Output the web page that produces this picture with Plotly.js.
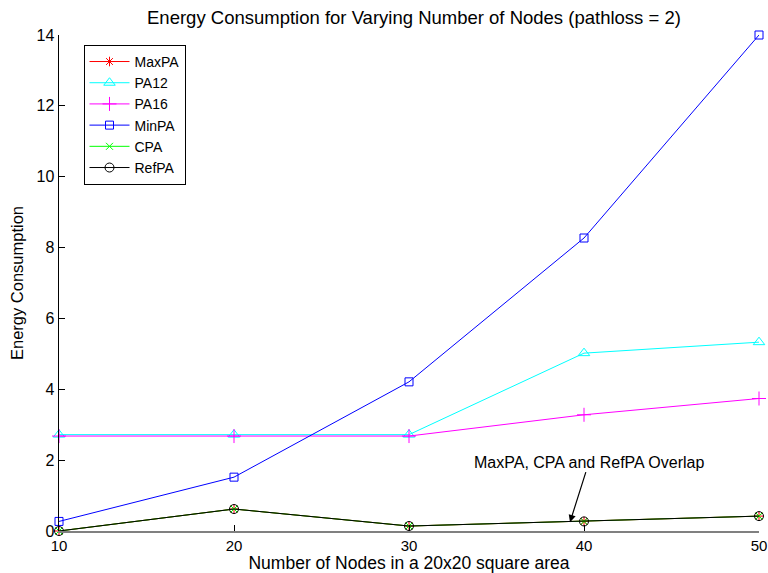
<!DOCTYPE html>
<html>
<head>
<meta charset="utf-8">
<script src="https://cdn.plot.ly/plotly-3.0.1.min.js"></script>
<style>
  html, body { margin: 0; padding: 0; background: #fff; }
  #chart { width: 768px; height: 573px; }
</style>
</head>
<body>
<div id="chart"></div>
<script>
// Number of nodes in the 20x20 area
const nodes = [10, 20, 30, 40, 50];

// Energy consumption per power-allocation scheme (pathloss = 2)
const maxPA = [0, 0.62, 0.14, 0.27, 0.42];
const pa12  = [2.72, 2.72, 2.72, 5.02, 5.33];
const pa16  = [2.68, 2.68, 2.68, 3.28, 3.74];
const minPA = [0.27, 1.52, 4.21, 8.27, 14.0];
const cpa   = [0, 0.62, 0.14, 0.27, 0.42];
const refPA = [0, 0.62, 0.14, 0.27, 0.42];

const yTicks = [0, 2, 4, 6, 8, 10, 12, 14];
const xTicks = [10, 20, 30, 40, 50];

function series(name, y, color, symbol, size) {
  return {
    x: nodes, y: y, name: name, type: 'scatter', mode: 'lines+markers',
    cliponaxis: false,
    line: { color: color, width: 1 },
    marker: { symbol: symbol, size: size, color: color, line: { color: color, width: 1 } }
  };
}

const traces = [
  series('MaxPA', maxPA, '#ff0000', 'asterisk-open', 8),
  series('PA12', pa12, '#00ffff', 'triangle-up-open', 10),
  series('PA16', pa16, '#ff00ff', 'cross-thin-open', 10),
  series('MinPA', minPA, '#0000ff', 'square-open', 8),
  series('CPA', cpa, '#00ff00', 'x-thin-open', 7),
  series('RefPA', refPA, '#000000', 'circle-open', 9)
];

const layout = {
  width: 768, height: 573,
  margin: { l: 59, r: 9, t: 35, b: 42 },
  paper_bgcolor: '#ffffff', plot_bgcolor: '#ffffff',
  font: { family: 'Liberation Sans, Arial, sans-serif', size: 15, color: '#000' },
  title: {
    text: 'Energy Consumption for Varying Number of Nodes (pathloss = 2)',
    font: { size: 18.5, color: '#000' },
    x: 0.539, xanchor: 'center', y: 0.97, yanchor: 'middle'
  },
  xaxis: {
    range: [10, 50], tickvals: xTicks, ticktext: xTicks.map(String),
    showgrid: false, zeroline: false, showline: true, linecolor: '#808080', linewidth: 1.5,
    ticks: 'inside', ticklen: 6, tickcolor: '#000',
    tickfont: { size: 15 },
    title: { text: 'Number of Nodes in a 20x20 square area', font: { size: 17.5 }, standoff: 3 }
  },
  yaxis: {
    range: [0, 14], tickvals: yTicks, ticktext: yTicks.map(String),
    showgrid: false, zeroline: false, showline: true, linecolor: '#000', linewidth: 1.5,
    ticks: 'inside', ticklen: 6, tickcolor: '#000',
    tickfont: { size: 16 },
    title: { text: 'Energy Consumption', font: { size: 16.5 }, standoff: 8 }
  },
  legend: {
    x: 0.035, y: 0.98, xanchor: 'left', yanchor: 'top',
    bgcolor: '#ffffff', bordercolor: '#000', borderwidth: 1,
    font: { size: 14 }, tracegroupgap: 0, itemwidth: 40
  },
  annotations: [{
    x: 39.2, y: 0.25, xref: 'x', yref: 'y',
    text: 'MaxPA, CPA and RefPA Overlap',
    showarrow: true, arrowhead: 2, arrowsize: 1.2, arrowwidth: 1.2, arrowcolor: '#000',
    ax: 19, ay: -60,
    font: { size: 16, color: '#000' }
  }],
  showlegend: true
};

Plotly.newPlot('chart', traces, layout, { displayModeBar: false, staticPlot: true });
</script>
</body>
</html>
